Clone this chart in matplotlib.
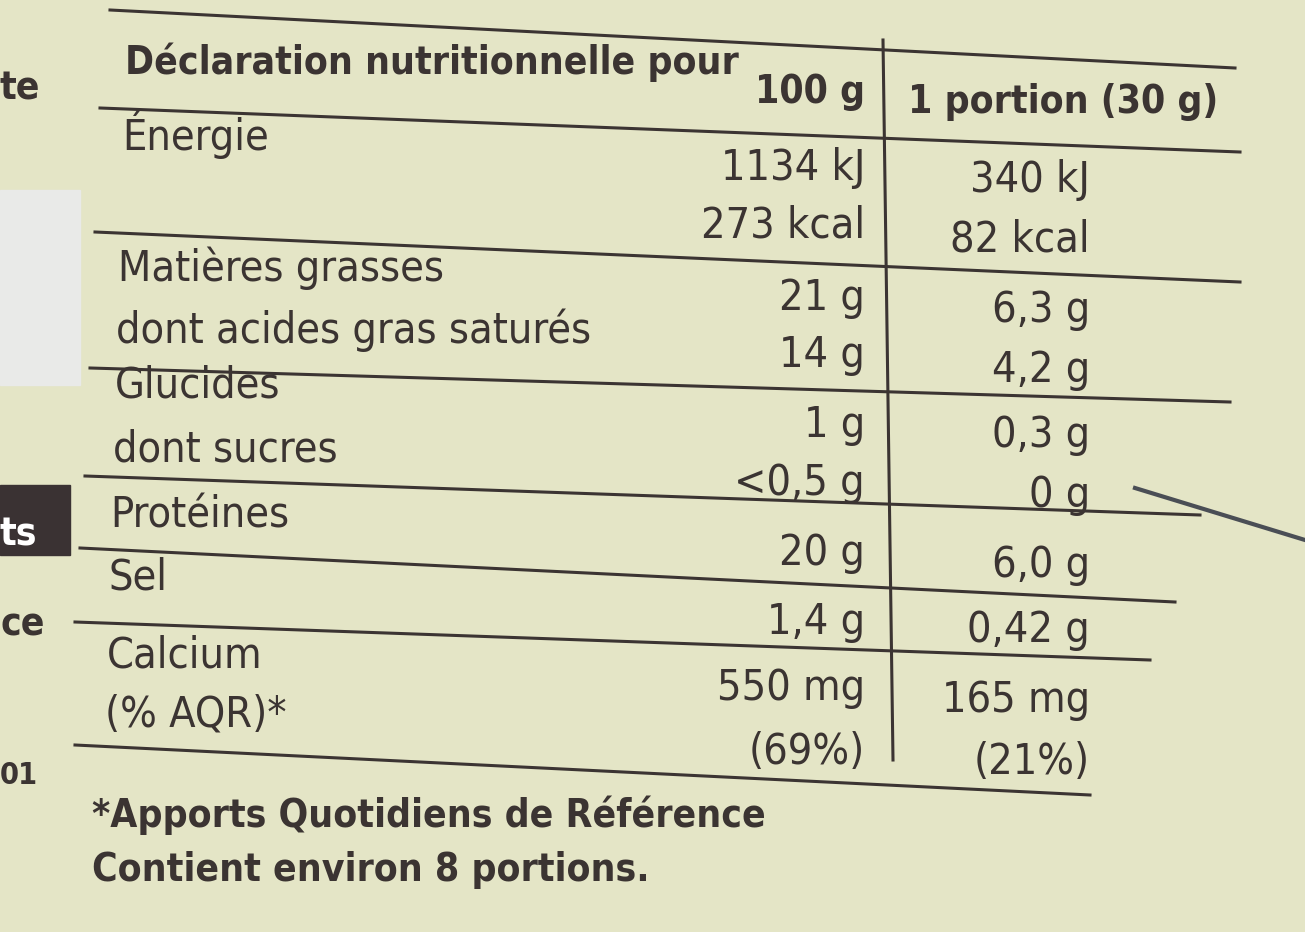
import matplotlib.pyplot as plt

# nutrition table content
labels = ["Énergie", "Matières grasses", "dont acides gras saturés", "Glucides",
          "dont sucres", "Protéines", "Sel", "Calcium", "(% AQR)*"]
label_y = [135, 268, 330, 385, 450, 515, 578, 655, 715]
per100 = ["1134 kJ", "273 kcal", "21 g", "14 g", "1 g", "<0,5 g", "20 g", "1,4 g", "550 mg", "(69%)"]
per100_y = [168, 225, 298, 355, 425, 483, 553, 622, 688, 752]
portion = ["340 kJ", "82 kcal", "6,3 g", "4,2 g", "0,3 g", "0 g", "6,0 g", "0,42 g", "165 mg", "(21%)"]
portion_y = [180, 240, 310, 370, 435, 495, 565, 630, 700, 762]

bg = "#e4e5c6"
ink = "#3b3432"
fam = ["DejaVu Sans"]
kw = dict(color=ink, family=fam, fontstretch="condensed", va="center")

fig = plt.figure(figsize=(13.05, 9.32), dpi=100)
fig.patch.set_facecolor(bg)
ax = fig.add_axes([0, 0, 1, 1])
ax.set_xlim(0, 1305)
ax.set_ylim(932, 0)
ax.axis("off")
ax.set_facecolor(bg)

# horizontal rules (left y, right y, x range)
rules = [(10, 68, 110, 1235), (108, 152, 100, 1240), (232, 282, 95, 1240),
         (368, 402, 90, 1230), (476, 515, 85, 1200), (548, 602, 80, 1175),
         (622, 660, 75, 1150), (745, 795, 75, 1090)]
for y0, y1, x0, x1 in rules:
    ax.plot([x0, x1], [y0, y1], color=ink, lw=2.2)
ax.plot([883, 893], [40, 760], color=ink, lw=2.2)

fs = 30
ax.text(125, 62, "Déclaration nutritionnelle pour", fontsize=fs - 2, fontweight="bold", **kw)
ax.text(865, 92, "100 g", fontsize=fs - 2, fontweight="bold", ha="right", **kw)
ax.text(908, 102, "1 portion (30 g)", fontsize=fs - 2, fontweight="bold", **kw)

for t, y in zip(labels, label_y):
    x = 122 - (y - 135) * 0.03
    ax.text(x, y, t, fontsize=fs + 1, **kw)
for t, y in zip(per100, per100_y):
    ax.text(865, y, t, fontsize=fs + 1, ha="right", **kw)
for t, y in zip(portion, portion_y):
    ax.text(1090, y, t, fontsize=fs + 1, ha="right", **kw)

ax.text(92, 815, "*Apports Quotidiens de Référence", fontsize=fs - 2, fontweight="bold", **kw)
ax.text(92, 870, "Contient environ 8 portions.", fontsize=fs - 2, fontweight="bold", **kw)

# fragments at the left edge
ax.text(0, 88, "te", fontsize=fs - 2, fontweight="bold", **kw)
ax.add_patch(plt.Rectangle((0, 190), 80, 195, color="#e9eae8"))
ax.add_patch(plt.Rectangle((0, 485), 70, 70, color="#3a3233"))
ax.text(0, 535, "ts", fontsize=fs - 2, fontweight="bold", color="white", family=fam,
        fontstretch="condensed", va="center")
ax.text(0, 625, "ce", fontsize=fs - 2, fontweight="bold", **kw)
ax.text(0, 775, "01", fontsize=fs - 8, fontweight="bold", **kw)
ax.plot([1135, 1305], [488, 540], color="#4a4e55", lw=3)

fig.savefig("out.png", dpi=100, facecolor=bg)
